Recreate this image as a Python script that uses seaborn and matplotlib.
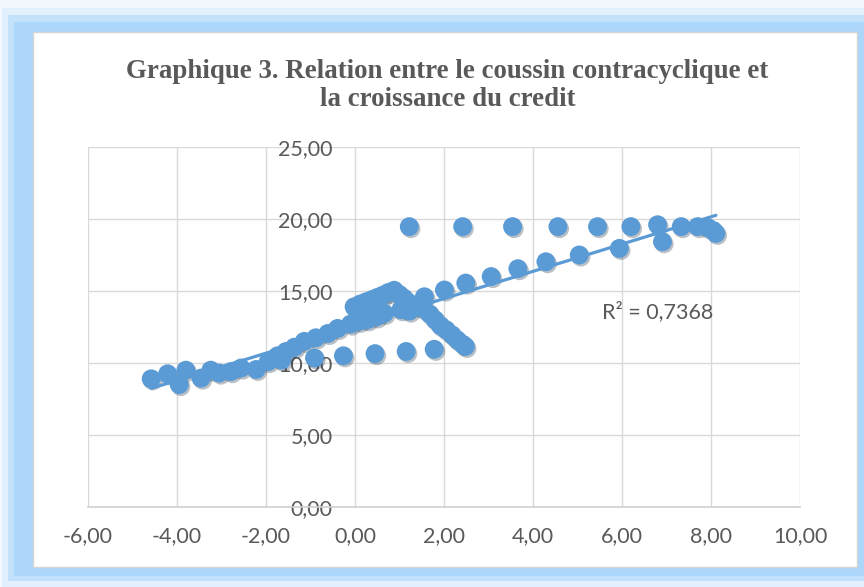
import numpy as np
import pandas as pd
import matplotlib
matplotlib.use("Agg")
import matplotlib.pyplot as plt
import matplotlib.patheffects as pe
from matplotlib.patches import Rectangle
from matplotlib.ticker import FuncFormatter
import seaborn as sns

# croissance du credit (x) et coussin contracyclique (y)
credit_low = [-4.58, -4.21, -3.95, -3.80, -3.46, -3.24, -3.05, -2.79, -2.56, -2.22,
              -1.95, -1.74, -1.55, -1.36, -1.14, -0.88, -0.61, -0.39, -0.10, 0.10,
              0.28, 0.48, 0.66]
coussin_low = [8.90, 9.25, 8.50, 9.50, 8.95, 9.50, 9.30, 9.40, 9.65, 9.55,
               10.10, 10.50, 10.80, 11.10, 11.50, 11.75, 12.05, 12.40, 12.70, 12.90,
               13.00, 13.20, 13.45]

credit_peak = [-0.02, 0.12, 0.25, 0.38, 0.50, 0.62, 0.75, 0.88,
               1.00, 1.10, 1.20, 1.30, 1.42, 1.55, 1.68, 1.80, 1.92, 2.05,
               2.18, 2.30, 2.42, 2.48, 1.03, 1.22]
coussin_peak = [13.90, 14.10, 14.25, 14.40, 14.55, 14.70, 14.90, 15.05,
                14.75, 14.50, 14.20, 14.00, 13.95, 13.75, 13.40, 13.00, 12.60, 12.30,
                11.95, 11.60, 11.30, 11.15, 13.70, 13.60]

credit_up = [1.56, 2.01, 2.49, 3.06, 3.66, 4.29, 5.04, 5.94, 6.91, 8.11]
coussin_up = [14.60, 15.07, 15.55, 16.00, 16.55, 17.03, 17.50, 17.96, 18.42, 19.00]

credit_top = [1.22, 2.42, 3.54, 4.56, 5.45, 6.20, 6.80, 7.33, 7.70, 7.93, 8.05]
coussin_top = [19.47, 19.47, 19.47, 19.47, 19.47, 19.47, 19.60, 19.47, 19.47, 19.40, 19.20]

credit_flat = [-1.65, -0.91, -0.26, 0.45, 1.15, 1.78]
coussin_flat = [10.20, 10.35, 10.50, 10.65, 10.80, 10.95]

x_ticks = [-6, -4, -2, 0, 2, 4, 6, 8, 10]
y_ticks = [0, 5, 10, 15, 20, 25]
r2_label = "R² = 0,7368"
title = "Graphique 3. Relation entre le coussin contracyclique et\nla croissance du credit"

df = pd.DataFrame({
    "credit": credit_low + credit_peak + credit_up + credit_top + credit_flat,
    "coussin": coussin_low + coussin_peak + coussin_up + coussin_top + coussin_flat,
})

sns.set_theme(style="white")
plt.rcParams["font.family"] = ["Lato", "DejaVu Sans"]

blue = "#5B9BD5"
grey_txt = "#595959"

W, H = 864, 587
fig = plt.figure(figsize=(W / 100, H / 100), dpi=100)
fig.patch.set_facecolor("#F3F8FE")

def px_rect(x0, y0, x1, y1, **kw):
    # rectangle in pixel coords measured from the top-left corner
    return Rectangle((x0 / W, 1 - y1 / H), (x1 - x0) / W, (y1 - y0) / H,
                     transform=fig.transFigure, figure=fig, zorder=-5, **kw)

# blue frame with a soft glow, then the white chart area
fig.patches.append(px_rect(2, 8, 864, 587, facecolor="#E2EFFC", edgecolor="none"))
fig.patches.append(px_rect(8, 15, 864, 581, facecolor="#C4E1FB", edgecolor="none"))
fig.patches.append(px_rect(14, 22, 864, 576, facecolor="#ACD6FA", edgecolor="none"))
fig.patches.append(px_rect(33, 32, 857, 567, facecolor="white", edgecolor="#D4D4D4", linewidth=1))

ax = fig.add_axes([88 / W, 1 - 507 / H, (800 - 88) / W, (507 - 147) / H])
ax.set_zorder(5)
ax.set_facecolor("none")

sns.regplot(data=df, x="credit", y="coussin", scatter=False, ci=None, ax=ax,
            line_kws={"color": blue, "linewidth": 2.3, "zorder": 3})
sns.scatterplot(data=df, x="credit", y="coussin", ax=ax, color=blue, s=185,
                linewidth=0, zorder=2,
                path_effects=[pe.SimplePatchShadow(offset=(1.2, -1.5), alpha=0.3), pe.Normal()])

ax.set_xlim(-6, 10)
ax.set_ylim(0, 25)
ax.set_xticks(x_ticks)
ax.set_yticks(y_ticks)
fmt = FuncFormatter(lambda v, p: f"{v:.2f}".replace(".", ","))
ax.xaxis.set_major_formatter(fmt)
ax.yaxis.set_major_formatter(fmt)

# gridlines under the points
ax.vlines(x_ticks, 0, 25, color="#D9D9D9", linewidth=1.0, zorder=0.5)
ax.hlines(y_ticks[1:], -6, 10, color="#D9D9D9", linewidth=1.0, zorder=0.5)

for side in ["top", "right"]:
    ax.spines[side].set_visible(False)
ax.spines["left"].set_position(("data", 0))
ax.spines["left"].set_visible(False)
ax.spines["bottom"].set_color("#CFCFCF")
ax.spines["bottom"].set_linewidth(1.2)
ax.tick_params(axis="both", length=0, labelsize=15.5, labelcolor=grey_txt)
ax.tick_params(axis="y", pad=16)
ax.tick_params(axis="x", pad=14)
ax.set_xlabel("")
ax.set_ylabel("")

ax.text(5.54, 13.6, r2_label, fontsize=15.5, color=grey_txt, ha="left", va="center")

fig.text(0.518, 0.855, title, ha="center", va="center", fontsize=19.4,
         fontweight="bold", color=grey_txt, family=["Liberation Serif", "DejaVu Serif"],
         linespacing=1.17)

fig.savefig("out.png", dpi=100)
